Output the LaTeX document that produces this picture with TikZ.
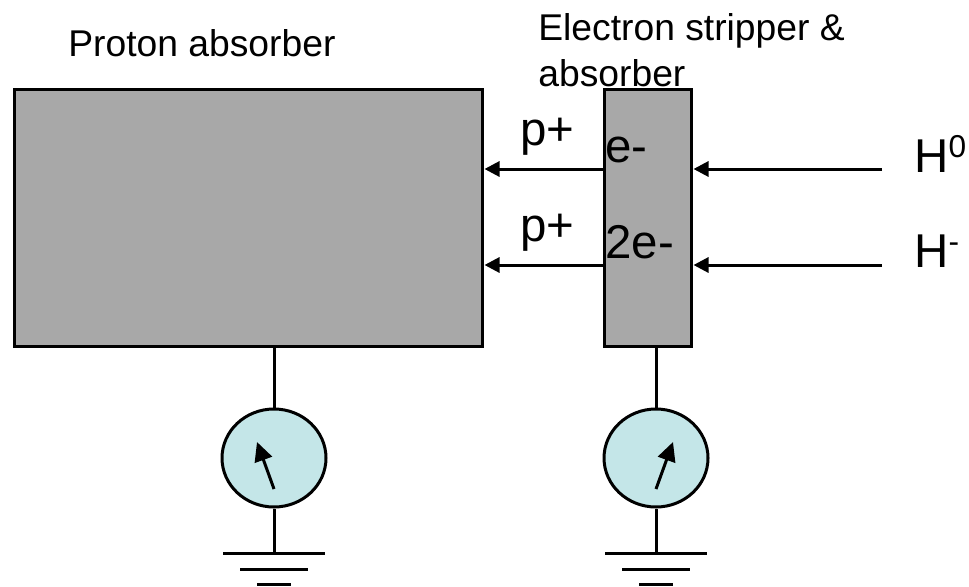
\documentclass[tikz,border=0pt]{standalone}
\usepackage{fontspec}
\setmainfont{Liberation Sans}
\usetikzlibrary{arrows.meta,shapes.geometric}
\definecolor{meterblue}{RGB}{196,230,232}
\tikzset{
	absorber/.style={draw=black,fill=black!34,line width=0.06cm,minimum height=5.14cm,inner sep=0pt},
	meter/.style={draw=black,fill=meterblue,ellipse,line width=0.06cm,minimum width=2.08cm,minimum height=1.96cm,inner sep=0pt},
	wire/.style={color=black,line width=0.06cm},
	beam/.style={-{Triangle[length=0.3cm,width=0.3cm]},color=black,line width=0.06cm,shorten >=0.02cm},
	needle/.style={-{Triangle[length=0.38cm,width=0.36cm]},color=black,line width=0.06cm},
	smalltext/.style={font=\fontsize{21.2}{26}\selectfont,inner sep=0pt,anchor=base west},
	bigtext/.style={font=\fontsize{27}{32}\selectfont,inner sep=0pt,anchor=base west}
}
\newcommand{\chargesup}[2]{\raisebox{#1}{\fontsize{18}{18}\selectfont #2}}
\begin{document}
\begin{tikzpicture}
		\useasboundingbox (0, 0) rectangle (19.38, -11.72);
		
		\node[absorber,minimum width=9.36cm] (proton) at (4.96, -4.35) {};
		\node[absorber,minimum width=1.74cm] (stripper) at (12.95, -4.35) {};
		\node[meter] (metera) at (5.48, -9.16) {};
		\node[meter] (meterb) at (13.12, -9.16) {};
		
		\node[smalltext] (protonlabel) at (1.36, -1.12) {Proton absorber};
		\node[smalltext] (stripperlabel) at (10.76, -0.80) {Electron stripper \&};
		\node[smalltext] (stripperlabelb) at (10.76, -1.72) {absorber};
		\node[bigtext] (pa) at (10.40, -2.90) {p+};
		\node[bigtext] (pb) at (10.40, -4.82) {p+};
		\node[bigtext] (ea) at (12.10, -3.24) {e-};
		\node[bigtext] (eb) at (12.10, -5.16) {2e-};
		\node[bigtext] (hzero) at (18.28, -3.44) {H\chargesup{8.5pt}{0}};
		\node[bigtext] (hminus) at (18.28, -5.34) {H\chargesup{8.5pt}{-}};
		
		\coordinate (starta) at (17.64, -3.38);
		\coordinate (startb) at (17.64, -5.30);
		\draw[beam] (starta) -- (starta -| stripper.east);
		\draw[beam] (startb) -- (startb -| stripper.east);
		\draw[beam] (starta -| stripper.west) -- (starta -| proton.east);
		\draw[beam] (startb -| stripper.west) -- (startb -| proton.east);
		
		\draw[wire] (proton.south -| metera.north) -- (metera.north);
		\draw[wire] (stripper.south -| meterb.north) -- (meterb.north);
		
		\coordinate (pivota) at (5.48, -9.78);
		\coordinate (pivotb) at (13.12, -9.78);
		\coordinate (tipa) at (5.14, -8.84);
		\coordinate (tipb) at (13.46, -8.84);
		\draw[needle] (pivota) -- (tipa);
		\draw[needle] (pivotb) -- (tipb);
		
		\foreach \m/\x in {metera/5.48,meterb/13.12}
		{
			\coordinate (\m g) at (\x, -11.06);
			\draw[wire] (\m.south) -- (\m g);
			\draw[wire] (\x-1.02, -11.06) -- +(2.04, 0);
			\draw[wire] (\x-0.68, -11.38) -- +(1.36, 0);
			\draw[wire] (\x-0.34, -11.69) -- +(0.68, 0);
		}
		\end{tikzpicture}
\end{document}
